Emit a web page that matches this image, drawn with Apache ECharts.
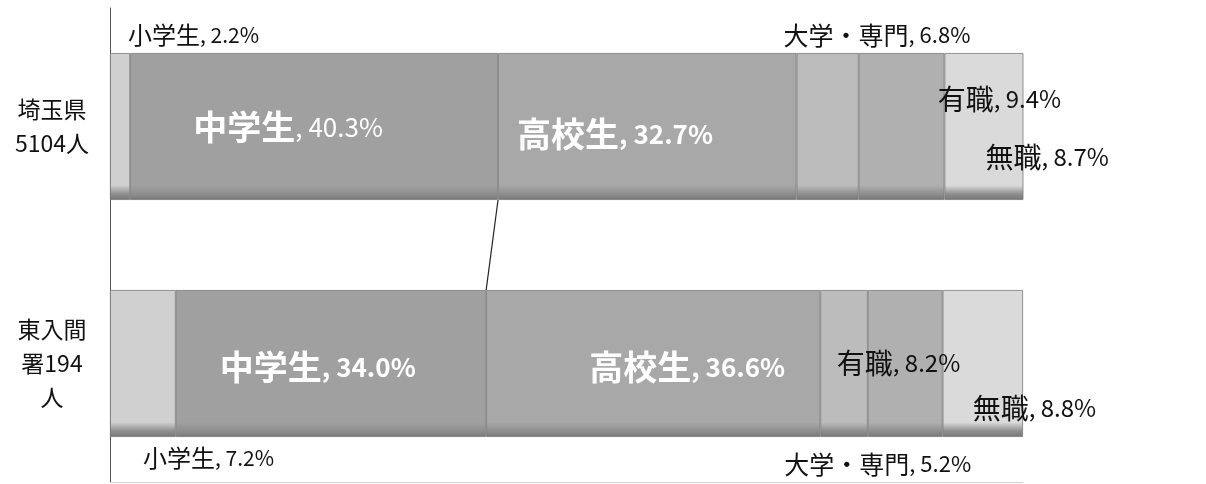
<!DOCTYPE html>
<html><head><meta charset="utf-8">
<script src="https://cdn.jsdelivr.net/npm/echarts@6/dist/echarts.min.js"></script>
<style>html,body{margin:0;padding:0;background:#fff}#c{width:1206px;height:484px}</style>
</head><body><div id="c"></div>
<script>
const categories = ['埼玉県\n5104人', '東入間\n署194\n人'];
const seriesNames = ['小学生', '中学生', '高校生', '大学・専門', '有職', '無職'];
const shogakusei = [2.2, 7.2];
const chugakusei = [40.3, 34.0];
const kokosei = [32.7, 36.6];
const daigaku = [6.8, 5.2];
const yushoku = [9.4, 8.2];
const mushoku = [8.7, 8.8];
const values = [shogakusei, chugakusei, kokosei, daigaku, yushoku, mushoku];

// styling (not data)
const colors = ['#d0d0d0', '#a0a0a0', '#a8a8a8', '#bcbcbc', '#b0b0b0', '#dadada'];
const FONT = '"Noto Sans CJK JP", "Noto Sans", sans-serif';
// label placement relative to each segment's top-left corner: [dx, dy, align, inner(white bold), cjkSize, numSize]
const labelPos = [
  [[18, -18, 'left', false, 24, 21], [33, 168, 'left', false, 24, 21]],
  [[158, 74, 'center', true], [142, 77, 'center', true]],
  [[117, 81, 'center', true], [201, 77, 'center', true]],
  [[-13, -18, 'left', false, 25, 22], [-36, 174, 'left', false, 25, 22]],
  [[79, 46, 'left', false, 28, 24], [-31, 73, 'left', false, 28, 24]],
  [[41, 104, 'left', false, 28, 24], [30, 118, 'left', false, 28, 24]]
];

function grad(c) {
  return new echarts.graphic.LinearGradient(0, 0, 0, 1, [
    {offset: 0, color: c},
    {offset: 0.9, color: c},
    {offset: 0.96, color: '#8e8e8e'},
    {offset: 1, color: '#767676'}
  ]);
}

const series = seriesNames.map((name, si) => ({
  name: name,
  type: 'bar',
  stack: 'total',
  barWidth: '62%',
  itemStyle: {color: grad(colors[si]), borderColor: '#7a7a7a', borderWidth: 0.8},
  data: values[si].map((v, ci) => {
    const lp = labelPos[si][ci];
    const inner = lp[3];
    return {
      value: v,
      label: {
        show: true,
        position: [lp[0], lp[1]],
        align: lp[2],
        verticalAlign: 'middle',
        formatter: '{n|' + name + '}{v|, ' + v.toFixed(1) + '%}',
        rich: inner ? {
          n: {fontFamily: FONT, fontSize: 34, fontWeight: 'bold', color: '#fff'},
          v: {fontFamily: FONT, fontSize: 26, fontWeight: ci === 0 && si === 1 ? 'normal' : 'bold', color: '#fff'}
        } : {
          n: {fontFamily: FONT, fontSize: lp[4], color: '#111'},
          v: {fontFamily: FONT, fontSize: lp[5], color: '#111'}
        }
      }
    };
  })
}));

// connector line between 中学生/高校生 boundaries
const bTop = shogakusei[0] + chugakusei[0];
const bBot = shogakusei[1] + chugakusei[1];
series.push({
  type: 'custom',
  silent: true,
  z: 10,
  data: [[bTop, 0, bBot, 1]],
  renderItem: function (params, api) {
    const p1 = api.coord([api.value(0), api.value(1)]);
    const p2 = api.coord([api.value(2), api.value(3)]);
    const half = api.size([0, 1])[1] * 0.31;
    return {
      type: 'line',
      shape: {x1: p1[0], y1: p1[1] + half, x2: p2[0], y2: p2[1] - half},
      style: {stroke: '#222', lineWidth: 1.2}
    };
  }
});

const chart = echarts.init(document.getElementById('c'));
chart.setOption({
  animation: false,
  backgroundColor: '#fff',
  grid: {left: 110, right: 183, top: 8, bottom: 2, containLabel: false},
  xAxis: {
    type: 'value', min: 0, max: 100,
    axisLabel: {show: false}, splitLine: {show: false}, axisTick: {show: false},
    axisLine: {show: true, lineStyle: {color: '#cfcfcf', width: 1}}
  },
  yAxis: {
    type: 'category', inverse: true, data: categories,
    axisTick: {show: false},
    axisLine: {show: true, lineStyle: {color: '#555', width: 1}},
    axisLabel: {fontFamily: FONT, fontSize: 23, color: '#111', lineHeight: 34, margin: 58, align: 'center'}
  },
  series: series
});
</script></body></html>
